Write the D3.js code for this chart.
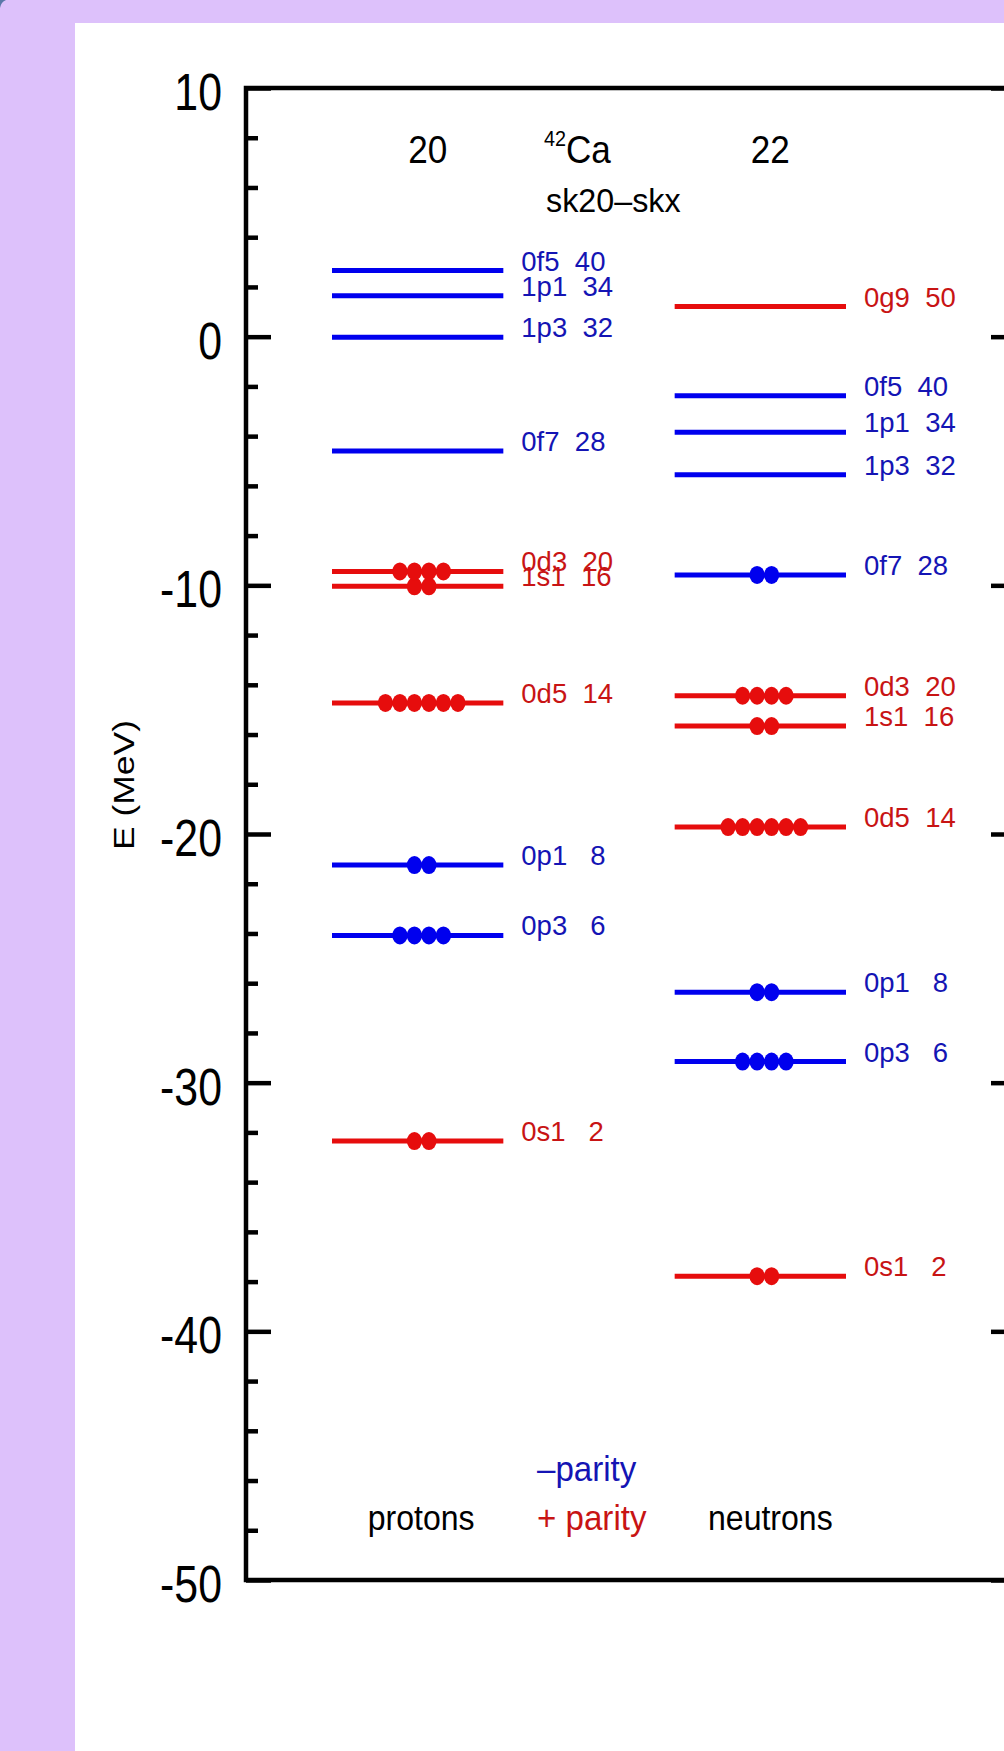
<!DOCTYPE html>
<html>
<head>
<meta charset="utf-8">
<script src="https://cdn.jsdelivr.net/npm/d3@7"></script>
<style>
  html, body { margin: 0; padding: 0; background: #ddc1fb; }
  svg { display: block; }
  text { font-family: "Liberation Sans", Arial, Helvetica, sans-serif; }
</style>
</head>
<body>
<svg id="chart" width="1004" height="1751"></svg>
<script>
// shell labels and the running shell-closure number printed next to each level
var levelNames  = ['0s1', '0p3', '0p1', '0d5', '1s1', '0d3', '0f7', '1p3', '1p1', '0f5', '0g9'];
var levelCounts = [2, 6, 8, 14, 16, 20, 28, 32, 34, 40, 50];

// single-particle energies (MeV)
var protonEnergy  = [-32.35, -24.08, -21.25, -14.73, -10.04, -9.44, -4.6, -0.02, 1.65, 2.66];
var neutronEnergy = [-37.78, -29.15, -26.36, -19.72, -15.66, -14.44, -9.58, -5.55, -3.84, -2.38, 1.21];

// occupation (number of filled dots) per level
var protonOcc  = [2, 4, 2, 6, 2, 4, 0, 0, 0, 0];
var neutronOcc = [2, 4, 2, 6, 2, 4, 2, 0, 0, 0, 0];

var columns = ['protons', 'neutrons'];
var columnTotals = [20, 22];
var yTicks = [10, 0, -10, -20, -30, -40, -50];

var blueLine = '#0000ee', redLine = '#e60d0d';
var blueText = '#1414b4', redText = '#c81414';

// the original figure is squeezed sideways, so most text is narrowed a bit
function narrowText(sel, x, y, sx) {
  return sel.attr('transform', 'translate(' + x + ',' + y + ') scale(' + sx + ',1)');
}

var chart = {
  frame: { left: 246, right: 1016, top: 88, bottom: 1580 },

  init: function() {
    var self = this;
    self.svg = d3.select('#chart');

    self.y = d3.scaleLinear().domain([-50, 10])
        .range([self.frame.bottom, self.frame.top]);
    self.x = d3.scaleBand().domain(columns)
        .range([332, 846]).paddingInner(0.5);

    self.drawBackground();
    self.drawAxes();
    self.drawLevels('protons', protonEnergy, protonOcc);
    self.drawLevels('neutrons', neutronEnergy, neutronOcc);
    self.drawTexts();
  },

  drawBackground: function() {
    var self = this;
    self.svg.append('rect')
        .attr('x', 0).attr('y', 0).attr('width', 1004).attr('height', 1751)
        .attr('fill', '#ddc1fb');
    self.svg.append('path')
        .attr('d', 'M0,8 Q1,2 6,0 L0,0 Z')
        .attr('fill', '#5a78a8');
    self.svg.append('rect')
        .attr('x', 75).attr('y', 23).attr('width', 1004 - 75).attr('height', 1751 - 23)
        .attr('fill', '#ffffff');
  },

  drawAxes: function() {
    var self = this, f = self.frame;
    var minor = d3.range(-50, 11, 2).filter(function(v) { return v % 10 !== 0; });
    var sx = 0.84;

    var left = self.svg.append('g')
        .attr('class', 'axis-left')
        .attr('transform', 'translate(' + f.left + ',0)')
        .call(d3.axisLeft(self.y).tickValues(yTicks)
            .tickSizeInner(-25).tickSizeOuter(0).tickPadding(22)
            .tickFormat(function(d) { return String(d); }));
    left.select('.domain').remove();
    left.selectAll('line').attr('stroke', '#000').attr('stroke-width', 4.5);
    left.selectAll('text')
        .attr('fill', '#000')
        .attr('font-size', 51)
        .attr('x', -24 / sx)
        .attr('dy', '0.42em')
        .attr('transform', 'scale(' + sx + ',1)')
        .style('font-family', '"Liberation Sans", Arial, sans-serif');

    var leftMinor = self.svg.append('g')
        .attr('transform', 'translate(' + f.left + ',0)')
        .call(d3.axisLeft(self.y).tickValues(minor)
            .tickSizeInner(-12).tickSizeOuter(0).tickFormat(''));
    leftMinor.select('.domain').remove();
    leftMinor.selectAll('line').attr('stroke', '#000').attr('stroke-width', 4.5);

    var right = self.svg.append('g')
        .attr('transform', 'translate(' + f.right + ',0)')
        .call(d3.axisRight(self.y).tickValues(yTicks)
            .tickSizeInner(-25).tickSizeOuter(0).tickFormat(''));
    right.select('.domain').remove();
    right.selectAll('line').attr('stroke', '#000').attr('stroke-width', 4.5);

    var rightMinor = self.svg.append('g')
        .attr('transform', 'translate(' + f.right + ',0)')
        .call(d3.axisRight(self.y).tickValues(minor)
            .tickSizeInner(-12).tickSizeOuter(0).tickFormat(''));
    rightMinor.select('.domain').remove();
    rightMinor.selectAll('line').attr('stroke', '#000').attr('stroke-width', 4.5);

    self.svg.append('rect')
        .attr('x', f.left).attr('y', f.top)
        .attr('width', f.right - f.left).attr('height', f.bottom - f.top)
        .attr('fill', 'none').attr('stroke', '#000').attr('stroke-width', 4.5);

    // axis title, stretched along its length like the original
    self.svg.append('text')
        .attr('transform', 'translate(134,785) rotate(-90)')
        .attr('text-anchor', 'middle')
        .attr('font-size', 30)
        .attr('textLength', 130)
        .attr('lengthAdjust', 'spacingAndGlyphs')
        .attr('fill', '#000')
        .text('E (MeV)');
  },

  drawLevels: function(col, energies, occ) {
    var self = this;
    var x0 = self.x(col), bw = self.x.bandwidth();
    var dotCenter = x0 + bw / 2 + 4, dotStep = 14.5;

    var levels = energies.map(function(e, i) {
      var odd = /[pfh]/.test(levelNames[i].charAt(1));
      return { name: levelNames[i], count: levelCounts[i], e: e, n: occ[i], odd: odd };
    });

    var g = self.svg.append('g').attr('class', 'levels-' + col);

    var lv = g.selectAll('.level')
        .data(levels)
        .enter().append('g')
        .attr('class', 'level');

    lv.append('line')
        .attr('x1', x0).attr('x2', x0 + bw)
        .attr('y1', function(d) { return self.y(d.e); })
        .attr('y2', function(d) { return self.y(d.e); })
        .attr('stroke', function(d) { return d.odd ? blueLine : redLine; })
        .attr('stroke-width', 5);

    lv.each(function(d) {
      var dots = d3.range(d.n);
      d3.select(this).selectAll('ellipse')
          .data(dots)
          .enter().append('ellipse')
          .attr('cx', function(k) { return dotCenter + (k - (d.n - 1) / 2) * dotStep; })
          .attr('cy', self.y(d.e))
          .attr('rx', 7.6)
          .attr('ry', 9)
          .attr('fill', d.odd ? blueLine : redLine);
    });

    lv.append('text')
        .attr('x', x0 + bw + 18)
        .attr('y', function(d) { return self.y(d.e); })
        .attr('font-size', 27.5)
        .attr('fill', function(d) { return d.odd ? blueText : redText; })
        .style('white-space', 'pre')
        .text(function(d) {
          var s = String(d.count);
          while (s.length < 3) s = ' ' + s;
          return d.name + ' ' + s;
        });
  },

  drawTexts: function() {
    var self = this, bw = self.x.bandwidth();
    var footOffset = [3.5, 10];

    columns.forEach(function(col, i) {
      var cx = self.x(col) + bw / 2;
      narrowText(self.svg.append('text'), cx + 10, 163, 0.9)
          .attr('text-anchor', 'middle')
          .attr('font-size', 39)
          .attr('fill', '#000')
          .text(columnTotals[i]);
      narrowText(self.svg.append('text'), cx + footOffset[i], 1530, 0.89)
          .attr('text-anchor', 'middle')
          .attr('font-size', 36)
          .attr('fill', '#000')
          .text(col);
    });

    var title = narrowText(self.svg.append('text'), 544, 163, 0.9)
        .attr('fill', '#000');
    title.append('tspan').attr('font-size', 22).attr('dy', -17).text('42');
    title.append('tspan').attr('font-size', 39).attr('dy', 17).text('Ca');

    narrowText(self.svg.append('text'), 546, 212, 0.95)
        .attr('font-size', 34)
        .attr('fill', '#000')
        .text('sk20\u2013skx');

    narrowText(self.svg.append('text'), 537, 1481, 0.92)
        .attr('font-size', 36)
        .attr('fill', blueText)
        .text('\u2013parity');
    narrowText(self.svg.append('text'), 537, 1530, 0.92)
        .attr('font-size', 36)
        .attr('fill', redText)
        .text('+ parity');
  }
};

chart.init();
</script>
</body>
</html>
